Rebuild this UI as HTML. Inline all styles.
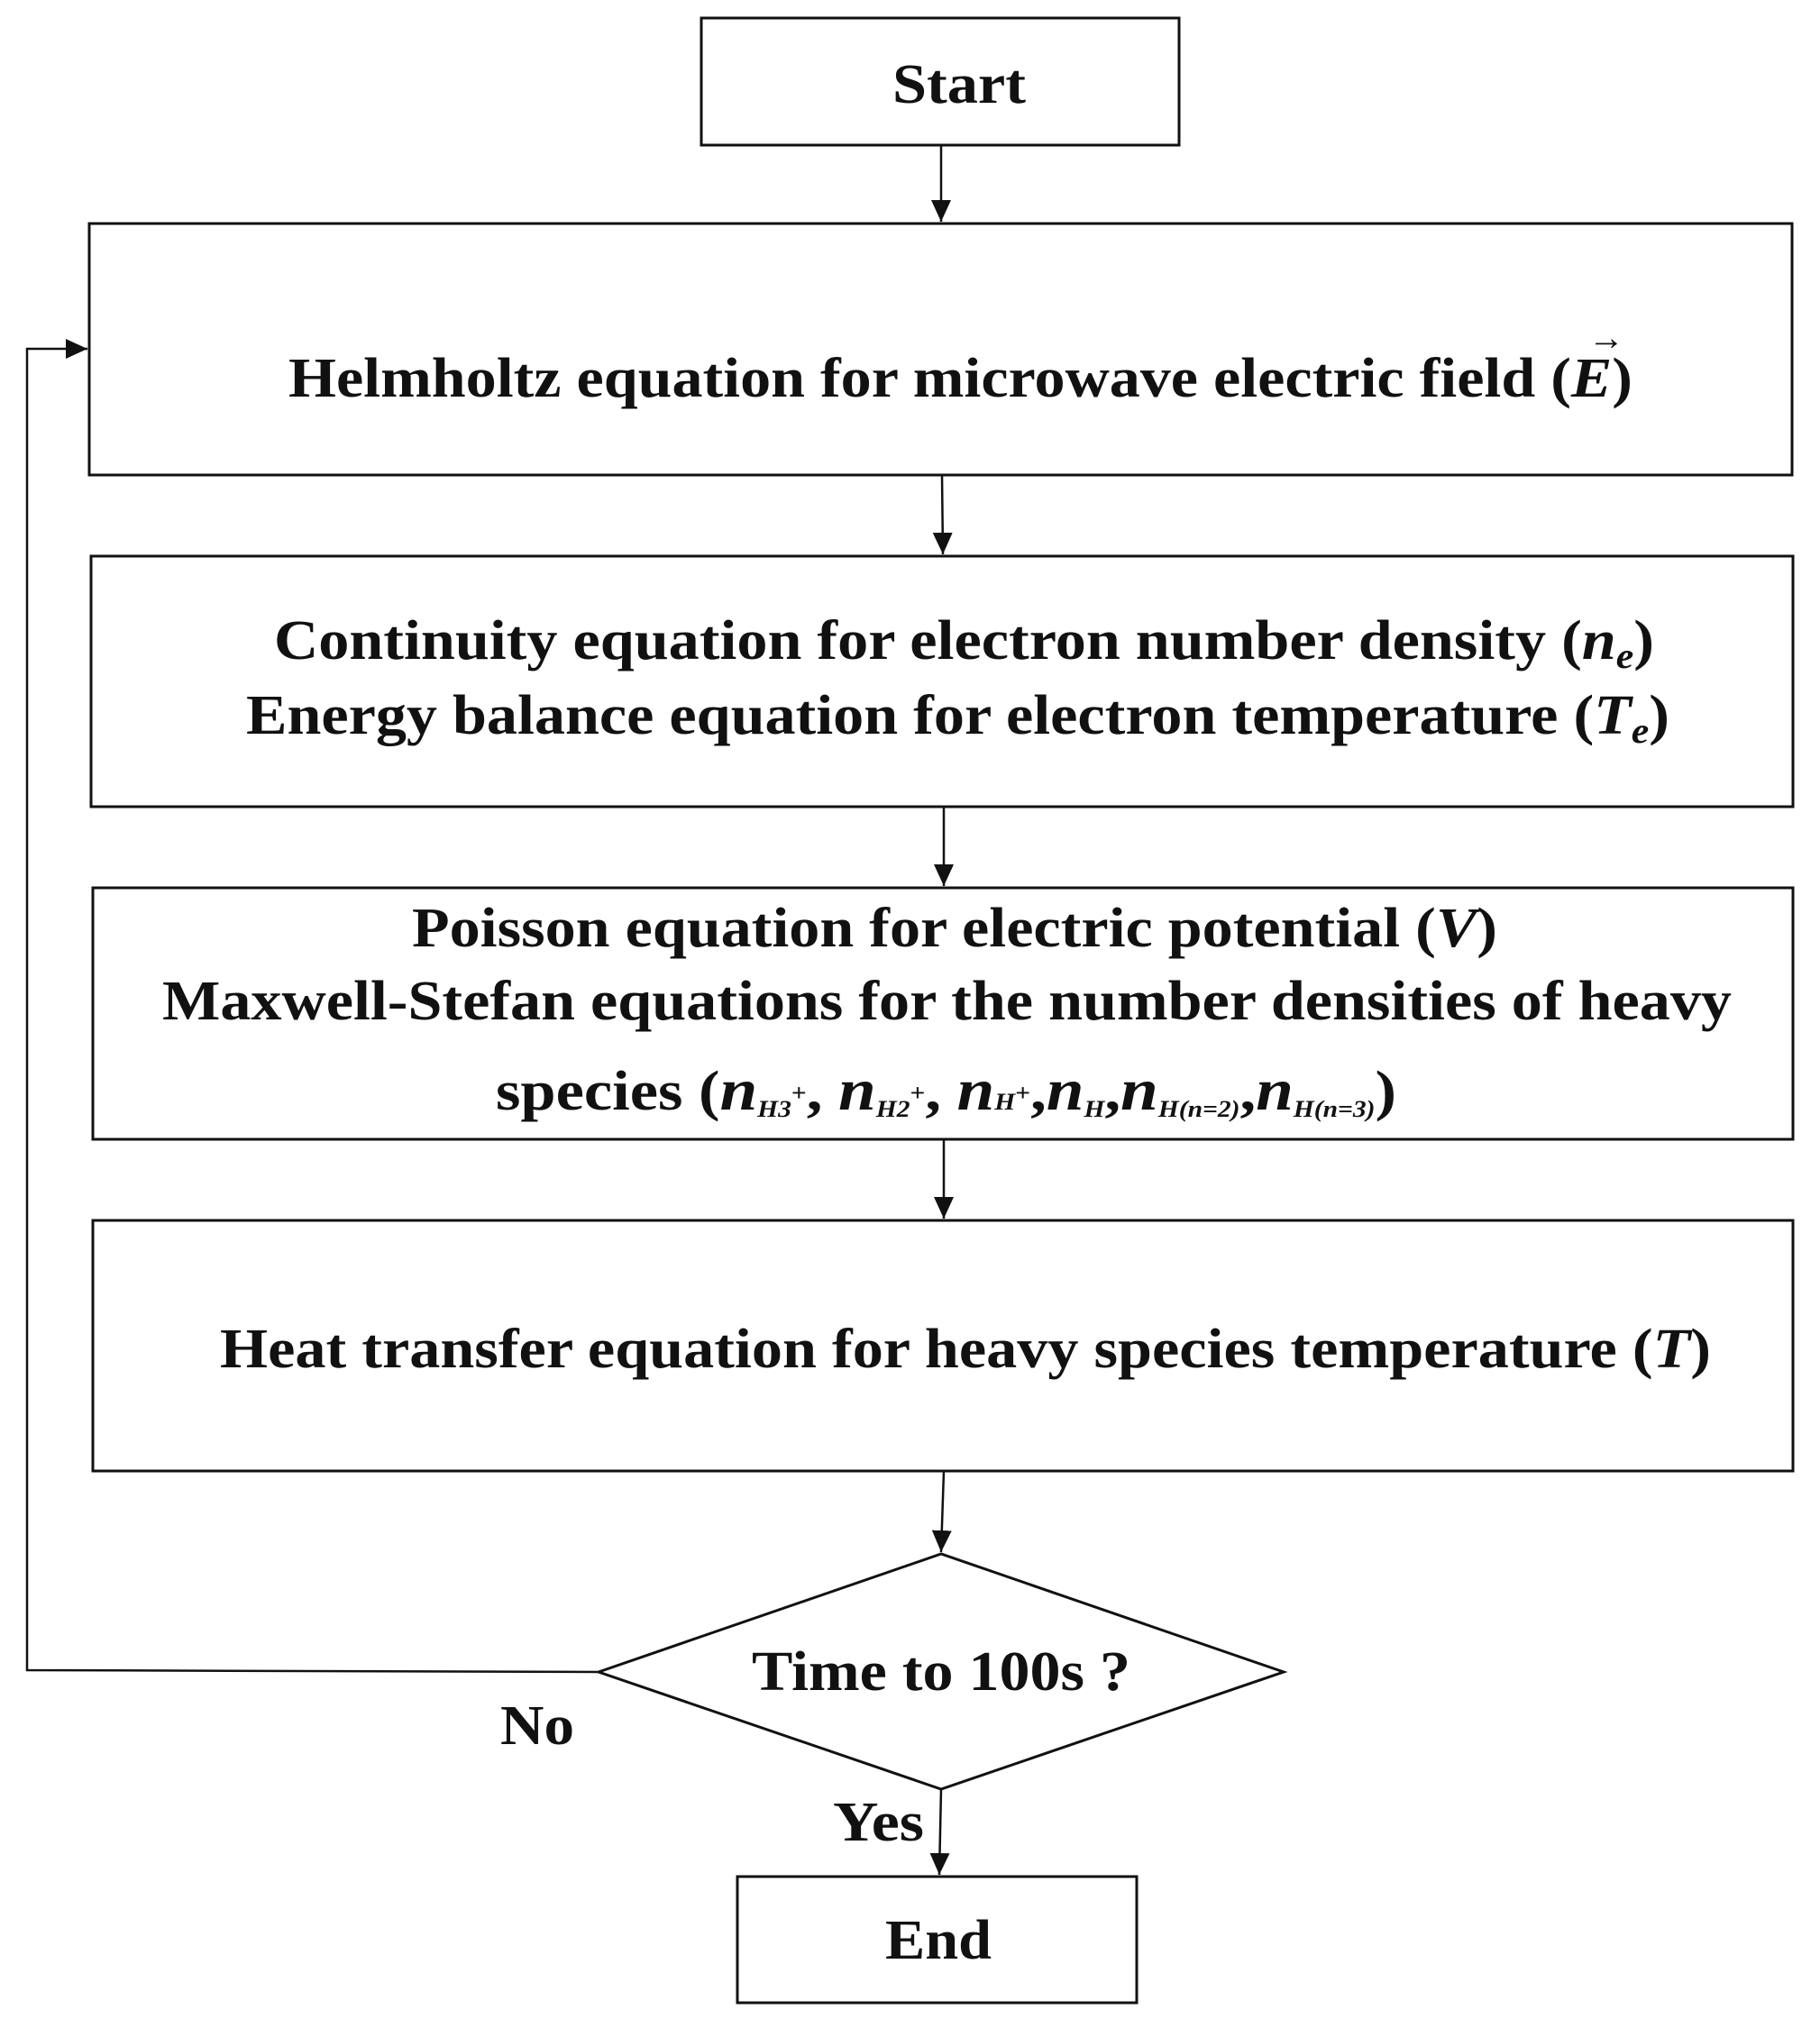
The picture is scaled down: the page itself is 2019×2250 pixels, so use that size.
<!DOCTYPE html>
<html><head><meta charset="utf-8"><style>html,body{margin:0;padding:0;background:#fff}svg{display:block}</style></head>
<body>
<svg width="2019" height="2250" viewBox="0 0 2019 2250" xmlns="http://www.w3.org/2000/svg" font-family="Liberation Serif, serif" font-weight="bold" fill="#111">
<defs><marker id="a" markerWidth="12" markerHeight="12" refX="11" refY="6" orient="auto" markerUnits="userSpaceOnUse"><path d="M0,0 L12,6 L0,12 Z" fill="#111"/></marker>
<marker id="b" markerWidth="24" markerHeight="22" refX="24" refY="11" orient="auto" markerUnits="userSpaceOnUse"><path d="M0,0 L24,11 L0,22 Z" fill="#111"/></marker></defs>
<g fill="none" stroke="#111" stroke-width="3">
<rect x="778" y="20" width="530" height="141"/>
<rect x="99" y="248" width="1889" height="279"/>
<rect x="101" y="617" width="1888" height="278"/>
<rect x="103" y="985" width="1886" height="279"/>
<rect x="103" y="1354" width="1886" height="278"/>
<polygon points="664,1855 1044,1724 1424,1855 1044,1985"/>
<rect x="818" y="2082" width="443" height="140"/>
<g stroke-width="2.5">
<line x1="1044" y1="161" x2="1044" y2="246" marker-end="url(#b)"/>
<line x1="1045" y1="527" x2="1046" y2="615" marker-end="url(#b)"/>
<line x1="1047" y1="895" x2="1047" y2="983" marker-end="url(#b)"/>
<line x1="1047" y1="1264" x2="1047" y2="1352" marker-end="url(#b)"/>
<line x1="1047" y1="1632" x2="1044" y2="1722" marker-end="url(#b)"/>
<line x1="1044" y1="1985" x2="1042" y2="2080" marker-end="url(#b)"/>
<polyline points="664,1855 30,1853 30,387 97,387" marker-end="url(#b)"/>
</g></g>
<g font-size="62">
<text x="990" y="114" textLength="148" lengthAdjust="spacingAndGlyphs">Start</text>
<text x="320" y="440" textLength="1491" lengthAdjust="spacingAndGlyphs">Helmholtz equation for microwave electric field (<tspan font-style="italic">E</tspan>)</text>
<text x="1762" y="388" font-size="40">→</text>
<text x="304" y="731" textLength="1531" lengthAdjust="spacingAndGlyphs">Continuity equation for electron number density (<tspan font-style="italic">n<tspan font-size="40" dy="10">e</tspan></tspan><tspan dy="-10">)</tspan></text>
<text x="273" y="814" textLength="1579" lengthAdjust="spacingAndGlyphs">Energy balance equation for electron temperature (<tspan font-style="italic">T<tspan font-size="40" dy="10">e</tspan></tspan><tspan dy="-10">)</tspan></text>
<text x="457" y="1050" textLength="1204" lengthAdjust="spacingAndGlyphs">Poisson equation for electric potential (<tspan font-style="italic">V</tspan>)</text>
<text x="180" y="1131" textLength="1741" lengthAdjust="spacingAndGlyphs">Maxwell-Stefan equations for the number densities of heavy</text>
<text x="550" y="1231" textLength="999" lengthAdjust="spacingAndGlyphs">species (<tspan font-style="italic" font-size="66">n</tspan><tspan font-style="italic" font-size="26" dy="8">H3</tspan><tspan font-size="26" dy="-18">+</tspan><tspan dy="10">, </tspan><tspan font-style="italic" font-size="66">n</tspan><tspan font-style="italic" font-size="26" dy="8">H2</tspan><tspan font-size="26" dy="-18">+</tspan><tspan dy="10">, </tspan><tspan font-style="italic" font-size="66">n</tspan><tspan font-style="italic" font-size="26" dy="0">H</tspan><tspan font-size="26" dy="-10">+</tspan><tspan dy="10">,</tspan><tspan font-style="italic" font-size="66">n</tspan><tspan font-style="italic" font-size="26" dy="8">H</tspan><tspan dy="-8">,</tspan><tspan font-style="italic" font-size="66">n</tspan><tspan font-style="italic" font-size="26" dy="8">H(n=2)</tspan><tspan dy="-8">,</tspan><tspan font-style="italic" font-size="66">n</tspan><tspan font-style="italic" font-size="26" dy="8">H(n=3)</tspan><tspan dy="-8">)</tspan></text>
<text x="244" y="1517" textLength="1654" lengthAdjust="spacingAndGlyphs">Heat transfer equation for heavy species temperature (<tspan font-style="italic">T</tspan>)</text>
<text x="834" y="1875" textLength="420" lengthAdjust="spacingAndGlyphs">Time to 100s ?</text>
<text x="555" y="1935" textLength="82" lengthAdjust="spacingAndGlyphs">No</text>
<text x="924" y="2042" textLength="101" lengthAdjust="spacingAndGlyphs">Yes</text>
<text x="982" y="2173" textLength="118" lengthAdjust="spacingAndGlyphs">End</text>
</g>
</svg>
</body></html>
